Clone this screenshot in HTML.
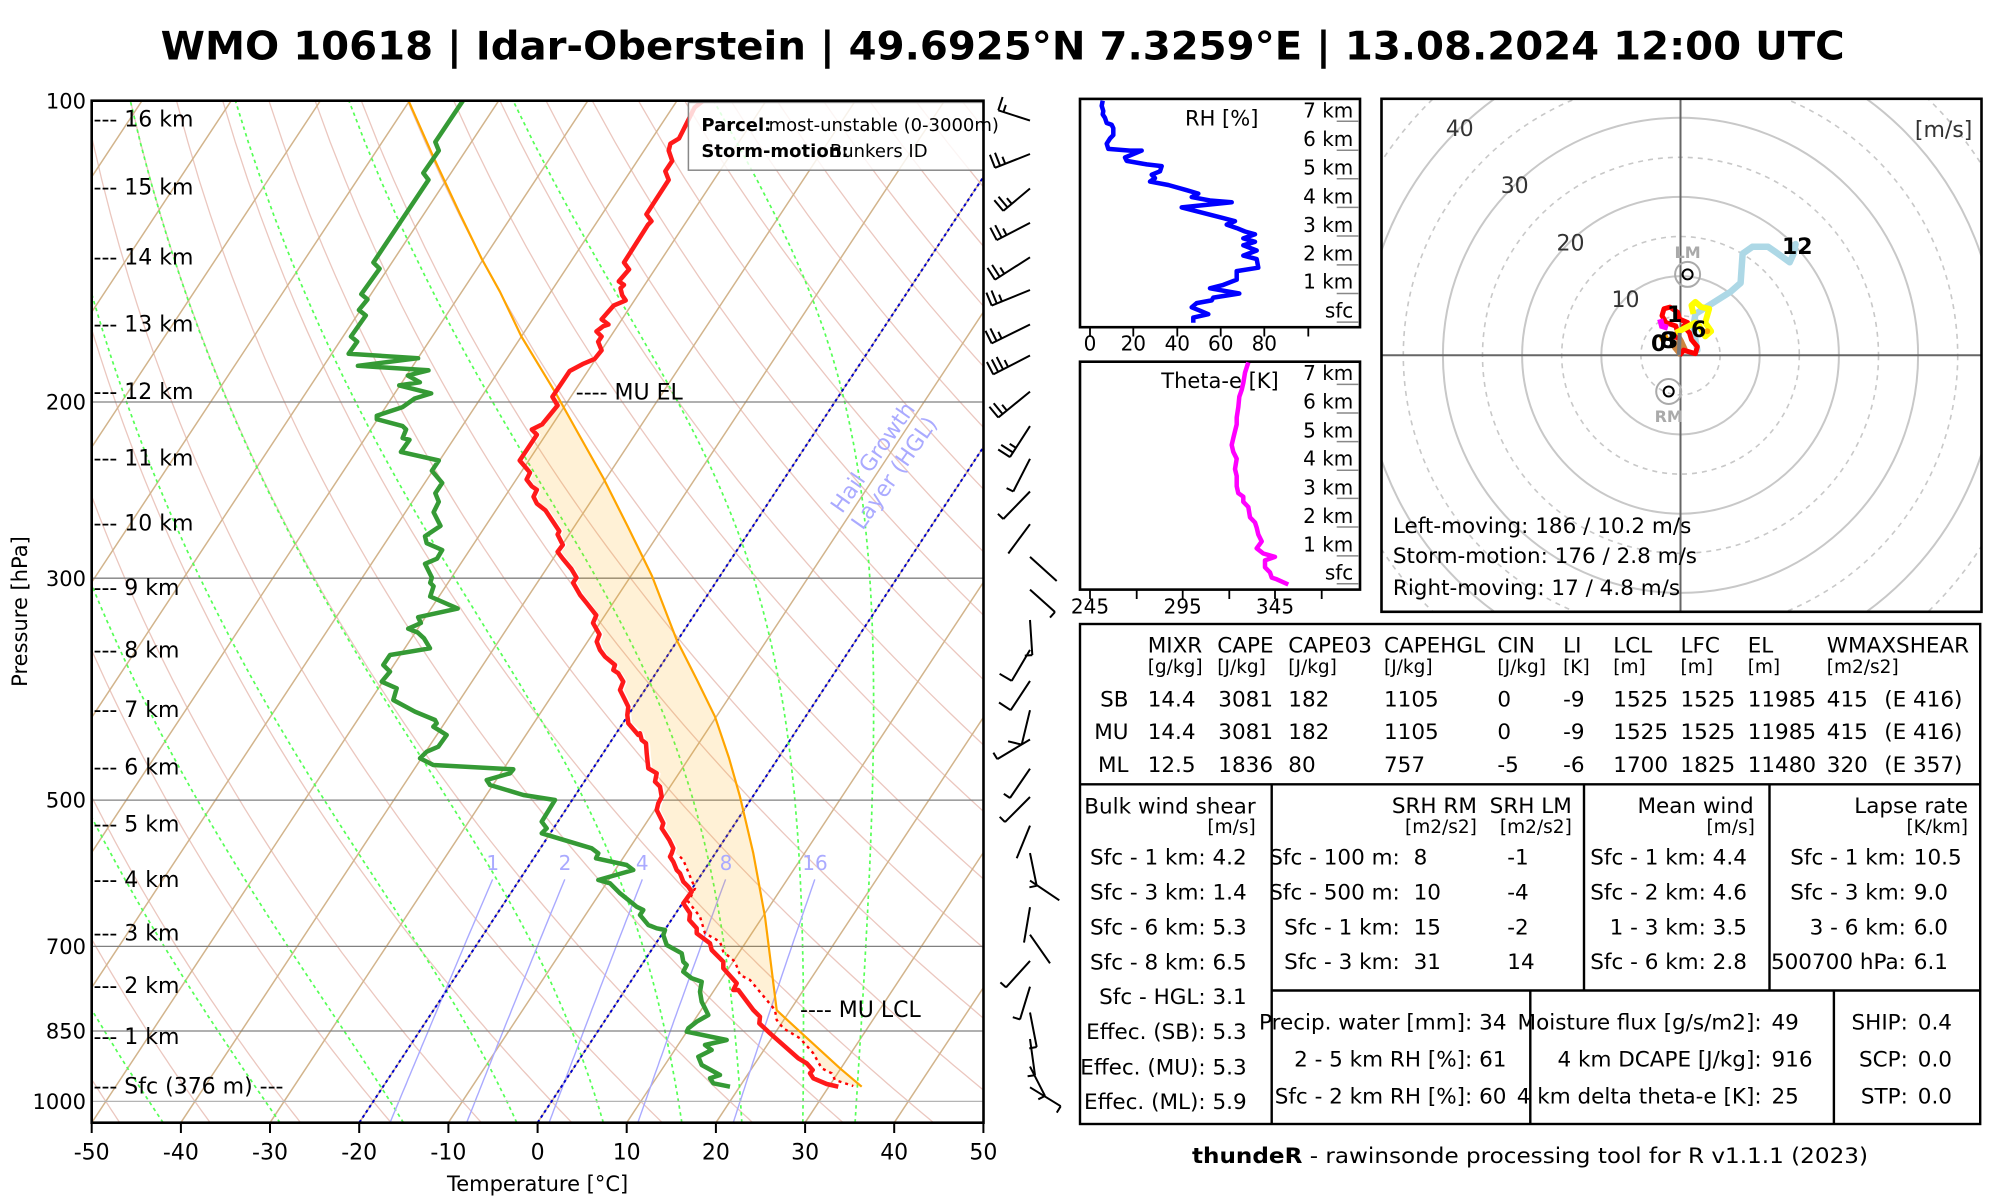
<!DOCTYPE html>
<html><head><meta charset="utf-8">
<style>
html,body{margin:0;padding:0;background:#fff;}
svg{display:block;}
text{font-family:"DejaVu Sans","Liberation Sans",sans-serif;}
</style></head><body>
<svg id="s" xmlns="http://www.w3.org/2000/svg" width="2000" height="1200" viewBox="0 0 2000 1200">
<defs>
<clipPath id="cs"><rect x="91.7" y="100.7" width="891.8" height="1022"/></clipPath>
<clipPath id="ch"><rect x="1381.5" y="98.8" width="600" height="513"/></clipPath>
</defs>
<rect width="2000" height="1200" fill="#fff"/>

<!-- Title -->
<text x="160.7" y="59.3" font-size="39" font-weight="bold" textLength="1684" lengthAdjust="spacingAndGlyphs">WMO 10618 | Idar-Oberstein | 49.6925°N 7.3259°E | 13.08.2024 12:00 UTC</text>

<!-- Skew-T background (generated) -->
<g id="bg" clip-path="url(#cs)"></g>

<g clip-path="url(#cs)">
<!-- pressure lines -->
<g stroke="#808080" stroke-width="1.3">
<line x1="91.7" y1="402" x2="983.5" y2="402"/>
<line x1="91.7" y1="578.2" x2="983.5" y2="578.2"/>
<line x1="91.7" y1="800.1" x2="983.5" y2="800.1"/>
<line x1="91.7" y1="946.4" x2="983.5" y2="946.4"/>
<line x1="91.7" y1="1031" x2="983.5" y2="1031"/>
</g>
<line x1="91.7" y1="1101.4" x2="983.5" y2="1101.4" stroke="#b4b4b4" stroke-width="1.3"/>
<g id="hgl"></g>

<!-- CAPE shading -->
<polygon fill="#ffa500" fill-opacity="0.16" points="555.9,393.4 578,433 603.3,478 628,527 652,576 676.7,640 715,716.7 740,796.7 753.3,853.3 765,916.7 776.7,1010 778.3,1011.7 800,1031.7 840,1068.3 861.7,1086.7 853.3,1086 835,1080 831.7,1073.3 821.7,1068.3 813.3,1053.3 800,1038.3 783.3,1028.3 776.7,1020 775,1010 766.7,1000 750,980 740,975 735,961.7 723.3,951.7 720,941.7 705,933.3 700,916.7 688.3,901.7 695,888.3 683.3,860 675.7,853.3 677.3,848.3 673.3,840 665.7,828.3 667.3,823.3 660.7,810 662.3,803.3 665.7,796.7 664,786.7 659,781.7 660.7,773.3 652.3,768.3 650.7,753.3 650,743.3 645.7,740 644,733.3 632.3,723.3 631.3,715 632.3,706.7 629,700 624,690 627.3,681.7 622.3,673.3 617.3,670 619,665 609,656.7 604,650 600.7,641.7 603.5,634.4 597,623 599.5,615.5 590.9,603.4 584,594.8 577.1,582.8 580.5,577.6 575.4,569 566.8,558.7 561.6,551.8 566.8,544.9 561.6,534.5 563.3,531.1 556.4,520.8 549.5,510.4 540.9,503.6 537.5,496.7 540.9,489.8 535.8,486.3 530.6,479.5 534,472.6 523.7,460.5 540.9,434.7 535.8,429.5 546.1,424.4 556.4,400"/>

<!-- parcel -->
<polyline fill="none" stroke="#ffa500" stroke-width="2.2" stroke-linejoin="round" points="408.5,100.7 433.6,157.5 460,214 481.8,259 500,291.8 521.4,336.5 555.9,393.4 578,433 603.3,478 628,527 652,576 676.7,640 697,680 715,716.7 729,758 740,796.7 753.3,853.3 765,916.7 776.7,1010 778.3,1011.7 800,1031.7 840,1068.3 861.7,1086.7"/>

<!-- virtual temp dotted -->
<polyline fill="none" stroke="#ff0000" stroke-width="2.4" stroke-dasharray="3 4" points="680,856.7 683.3,860 695,888.3 688.3,901.7 700,916.7 705,933.3 720,941.7 723.3,951.7 735,961.7 740,975 750,980 766.7,1000 775,1010 776.7,1020 783.3,1028.3 800,1038.3 813.3,1053.3 821.7,1068.3 831.7,1073.3 835,1080 853.3,1086"/>

<!-- dewpoint -->
<polyline fill="none" stroke="#359a35" stroke-width="4.5" stroke-linejoin="round" points="462.9,100.7 435.3,142 438.8,150.6 423.3,173 428.5,179.9 407.8,210.9 373.4,262.5 379.6,268.7 361.3,294.2 367.5,299.4 358.9,310 365.8,315.5 351,336.5 357.2,341.7 348.6,353.8 418.1,358.2 357.9,365.8 428.5,370.3 407.8,375.5 419.9,382.3 399.2,385.4 431.2,393.4 414.7,398.5 402.6,407.1 376.8,415.7 376.8,419.2 402.6,426.1 406.1,429.5 402.6,438.1 409.5,439.8 400.9,451.9 438.8,460.5 431.9,470.8 442.2,482.9 435.3,493.2 438.8,501.8 433.6,512.2 440.5,525.9 425,536.3 426.7,543.2 442.2,550 437,558.7 425,563.8 431.9,577.6 430.2,582.8 433.6,586.2 430.2,596.5 457.7,608.6 418.1,617.2 420.9,623 408.2,628.7 417.7,632.5 424,638.3 430,648.3 390,655 383.3,665 390,671.7 381.7,681.7 396.7,688.3 393.3,700 415,711.7 435,720 436.7,723.3 433.3,726.7 446.7,735 438.3,746.7 426.7,751.7 420,758.3 433.3,765 513.3,769.3 510,773.3 486.7,780 490,785 523.3,795 555,800 541.7,821.7 546.7,828.3 541.7,833.3 591.7,848.3 598.3,853.3 596,858.3 626.7,865 633.3,870 598.3,880 610,883.3 620,893.3 636.7,906.7 643.3,910 640,915 648.3,925 656.7,928.3 665,930 663.3,935 666.7,945 681.7,953.3 683.3,961.7 686.7,965 683.3,971.7 691.7,978.3 701.7,981.7 700,991.7 701.7,1001.7 705,1008.3 708.3,1015 696.7,1021.7 688.3,1028.3 686.7,1031.7 726.7,1040 705,1045 711.7,1050 698.3,1056.7 701.7,1065 720,1075 710,1078.3 713.3,1083.3 730,1086.7"/>

<!-- temperature -->
<polyline fill="none" stroke="#ff1a1a" stroke-width="4.5" stroke-linejoin="round" points="703.2,100.7 694.6,107.5 687.7,121.3 679,138.5 670.4,143.7 668.7,150.6 672.2,160.9 665.3,171.3 668.7,179.9 646.4,214.3 651.5,221.2 648.1,224.6 624,262.5 629.1,269.4 618.8,281.4 624,284.9 620.5,288.3 622.2,295.2 625.7,300.4 613.6,305.6 601.6,319.3 608.5,324.5 603.3,326.2 596.4,331.4 601.6,336.5 598.1,341.7 601.6,350.3 594.7,358.9 582.6,364.1 569.7,371 552.4,396.8 557.6,405.4 542.1,424.4 531.8,429.5 536.9,434.7 519.7,460.5 530,472.6 526.6,479.5 531.8,486.3 536.9,489.8 533.5,496.7 536.9,503.6 545.5,510.4 552.4,520.8 559.3,531.1 557.6,534.5 562.8,544.9 557.6,551.8 562.8,558.7 571.4,569 576.5,577.6 573.1,582.8 580,594.8 586.9,603.4 596.3,615.3 593,623 599.5,634.4 596.7,641.7 600,650 605,656.7 615,665 613.3,670 618.3,673.3 623.3,681.7 620,690 625,700 628.3,706.7 627.3,715 628.3,723.3 638.3,735 640,733.3 641.7,740 646,743.3 646.7,753.3 648.3,768.3 656.7,773.3 655,781.7 660,786.7 661.7,796.7 658.3,803.3 656.7,810 663.3,823.3 661.7,828.3 669.3,840 673.3,848.3 671.7,853.3 670,856.7 673.3,861.7 676.7,870 680,873.3 683.3,881.7 688.3,886.7 691.7,891.7 683.3,903.3 690,913.3 689.3,920 696.7,928.3 696.7,933.3 703.3,938.3 710,943.3 711.7,950 723.3,961.7 723.3,968.3 736.7,983.3 733.3,990 738.3,990 753.3,1010 760,1016.7 759.3,1023.3 770,1033.3 798.3,1058.3 806.7,1063.3 812.7,1070 810,1073.3 813.3,1078.3 826.7,1084 838.3,1086.7"/>
</g>

<!-- mixing ratio labels -->
<g font-size="20" fill="#aaaaff" text-anchor="middle">
<text x="492.7" y="870">1</text>
<text x="565" y="870">2</text>
<text x="642.3" y="870">4</text>
<text x="726" y="870">8</text>
<text x="815" y="870">16</text>
</g>
<!-- HGL text -->
<text x="873.6" y="457.9" font-size="22" fill="#aaaaff" text-anchor="middle" dominant-baseline="central" transform="rotate(-55 873.6 457.9)">Hail Growth</text>
<text x="895" y="473.5" font-size="22" fill="#aaaaff" text-anchor="middle" dominant-baseline="central" transform="rotate(-55 895 473.5)">Layer (HGL)</text>

<!-- MU labels -->
<text x="575.8" y="399.6" font-size="22">---- MU EL</text>
<text x="800" y="1017" font-size="22">---- MU LCL</text>

<!-- km labels -->
<g font-size="22">
<text x="93.5" y="126.6">--- 16 km</text>
<text x="93.5" y="194.7">--- 15 km</text>
<text x="93.5" y="264.3">--- 14 km</text>
<text x="93.5" y="331.5">--- 13 km</text>
<text x="93.5" y="399">--- 12 km</text>
<text x="93.5" y="465.7">--- 11 km</text>
<text x="93.5" y="530.5">--- 10 km</text>
<text x="93.5" y="595.2">--- 9 km</text>
<text x="93.5" y="657.3">--- 8 km</text>
<text x="93.5" y="717">--- 7 km</text>
<text x="93.5" y="774.7">--- 6 km</text>
<text x="93.5" y="831.3">--- 5 km</text>
<text x="93.5" y="887">--- 4 km</text>
<text x="93.5" y="940.7">--- 3 km</text>
<text x="93.5" y="993">--- 2 km</text>
<text x="93.5" y="1044">--- 1 km</text>
<text x="93.5" y="1093.7">--- Sfc (376 m) ---</text>
</g>

<!-- legend box -->
<rect x="688.4" y="102.4" width="295.4" height="67.8" fill="#fff" fill-opacity="0.82" stroke="#888" stroke-width="1.5"/>
<text x="701.4" y="131" font-size="18" font-weight="bold">Parcel:</text>
<text x="768.6" y="131" font-size="18">most-unstable (0-3000m)</text>
<text x="701.4" y="157" font-size="18" font-weight="bold">Storm-motion:</text>
<text x="829.9" y="157" font-size="18">Bunkers ID</text>

<!-- frame -->
<rect x="91.7" y="100.7" width="891.8" height="1022" fill="none" stroke="#000" stroke-width="2.6"/>
<g stroke="#000" stroke-width="2">
<line x1="91.7" y1="1122.7" x2="91.7" y2="1133"/><line x1="180.9" y1="1122.7" x2="180.9" y2="1133"/><line x1="270" y1="1122.7" x2="270" y2="1133"/><line x1="359.2" y1="1122.7" x2="359.2" y2="1133"/><line x1="448.4" y1="1122.7" x2="448.4" y2="1133"/><line x1="537.6" y1="1122.7" x2="537.6" y2="1133"/><line x1="626.7" y1="1122.7" x2="626.7" y2="1133"/><line x1="715.9" y1="1122.7" x2="715.9" y2="1133"/><line x1="805.1" y1="1122.7" x2="805.1" y2="1133"/><line x1="894.2" y1="1122.7" x2="894.2" y2="1133"/><line x1="983.4" y1="1122.7" x2="983.4" y2="1133"/>
</g>
<g font-size="22" text-anchor="middle">
<text x="91.7" y="1159.5">-50</text><text x="180.9" y="1159.5">-40</text><text x="270" y="1159.5">-30</text><text x="359.2" y="1159.5">-20</text><text x="448.4" y="1159.5">-10</text><text x="537.6" y="1159.5">0</text><text x="626.7" y="1159.5">10</text><text x="715.9" y="1159.5">20</text><text x="805.1" y="1159.5">30</text><text x="894.2" y="1159.5">40</text><text x="983.4" y="1159.5">50</text>
</g>
<text x="537.6" y="1191" font-size="21" text-anchor="middle">Temperature [°C]</text>
<g font-size="21" text-anchor="end">
<text x="86" y="108.3">100</text><text x="86" y="409.6">200</text><text x="86" y="585.8">300</text><text x="86" y="807.7">500</text><text x="86" y="954">700</text><text x="86" y="1038.6">850</text><text x="86" y="1109">1000</text>
</g>
<text x="27" y="611.5" font-size="21" text-anchor="middle" transform="rotate(-90 27 611.5)">Pressure [hPa]</text>

<!-- wind barbs -->
<g id="barbs" stroke="#000" stroke-width="2" fill="none"></g>

<!-- RH panel -->
<rect x="1080" y="98.9" width="280" height="228.3" fill="none" stroke="#000" stroke-width="2.6"/>
<polyline fill="none" stroke="#0000ff" stroke-width="4.5" stroke-linejoin="round" points="1102.7,100.7 1101.7,105.8 1103.3,111 1102.7,114.4 1105,117.9 1106.7,123 1111.7,124.8 1113.3,128.2 1113.3,135.1 1110,138.5 1106.7,143.7 1108.3,148.9 1130,150.6 1141.7,150.6 1125,157.5 1126.7,160.9 1146.7,164.4 1161.7,166.1 1160,171.3 1151.7,174.7 1155,178.1 1150,181.6 1168.3,185 1186.7,190.2 1198.3,193.6 1191.7,197.1 1210,200.5 1231.7,202.2 1181.7,207.4 1201.7,212.6 1221.7,217.7 1235,221.2 1226.7,224.6 1236.7,228.1 1245,231.5 1255,234.3 1243.3,238.4 1255,241.8 1243.3,245.3 1256.7,250.5 1243.3,255.6 1256.7,259.1 1258.3,267.7 1236.7,271.1 1236.7,279.7 1223.3,284.9 1210,288.3 1239.3,293.5 1213.3,297.6 1211.7,300.4 1196.7,303.1 1191.7,307.3 1200,310.7 1208.3,314.2 1193.3,317.6 1193.3,322.8"/>
<text x="1221.7" y="125.5" font-size="21" text-anchor="middle">RH [%]</text>
<g stroke="#888" stroke-width="1.5">
<line x1="1336.7" y1="121.3" x2="1358.3" y2="121.3"/><line x1="1336.7" y1="150.2" x2="1358.3" y2="150.2"/><line x1="1336.7" y1="178.8" x2="1358.3" y2="178.8"/><line x1="1336.7" y1="207.4" x2="1358.3" y2="207.4"/><line x1="1336.7" y1="236" x2="1358.3" y2="236"/><line x1="1336.7" y1="264.9" x2="1358.3" y2="264.9"/><line x1="1336.7" y1="293.5" x2="1358.3" y2="293.5"/><line x1="1336.7" y1="322.1" x2="1358.3" y2="322.1"/>
<line x1="1336.7" y1="384.4" x2="1358.3" y2="384.4"/><line x1="1336.7" y1="413" x2="1358.3" y2="413"/><line x1="1336.7" y1="441.6" x2="1358.3" y2="441.6"/><line x1="1336.7" y1="470.2" x2="1358.3" y2="470.2"/><line x1="1336.7" y1="498.4" x2="1358.3" y2="498.4"/><line x1="1336.7" y1="527" x2="1358.3" y2="527"/><line x1="1336.7" y1="555.9" x2="1358.3" y2="555.9"/><line x1="1336.7" y1="583.8" x2="1358.3" y2="583.8"/>
</g>
<g font-size="20" text-anchor="end">
<text x="1353.3" y="117.6">7 km</text><text x="1353.3" y="145.8">6 km</text><text x="1353.3" y="174.4">5 km</text><text x="1353.3" y="203.3">4 km</text><text x="1353.3" y="231.9">3 km</text><text x="1353.3" y="260.5">2 km</text><text x="1353.3" y="288.7">1 km</text><text x="1353.3" y="317.3">sfc</text>
<text x="1353.3" y="380">7 km</text><text x="1353.3" y="408.6">6 km</text><text x="1353.3" y="437.5">5 km</text><text x="1353.3" y="465.4">4 km</text><text x="1353.3" y="494.3">3 km</text><text x="1353.3" y="522.9">2 km</text><text x="1353.3" y="551.5">1 km</text><text x="1353.3" y="579.7">sfc</text>
</g>
<g stroke="#000" stroke-width="1.8">
<line x1="1090" y1="327.2" x2="1090" y2="336.5"/><line x1="1133.3" y1="327.2" x2="1133.3" y2="336.5"/><line x1="1177.3" y1="327.2" x2="1177.3" y2="336.5"/><line x1="1220.7" y1="327.2" x2="1220.7" y2="336.5"/><line x1="1264.3" y1="327.2" x2="1264.3" y2="336.5"/><line x1="1308.3" y1="327.2" x2="1308.3" y2="336.5"/>
<line x1="1090" y1="589.6" x2="1090" y2="599"/><line x1="1136.7" y1="589.6" x2="1136.7" y2="599"/><line x1="1182.7" y1="589.6" x2="1182.7" y2="599"/><line x1="1229.3" y1="589.6" x2="1229.3" y2="599"/><line x1="1275" y1="589.6" x2="1275" y2="599"/><line x1="1321.7" y1="589.6" x2="1321.7" y2="599"/>
</g>
<g font-size="20" text-anchor="middle">
<text x="1090" y="350.5">0</text><text x="1133.3" y="350.5">20</text><text x="1177.3" y="350.5">40</text><text x="1220.7" y="350.5">60</text><text x="1264.3" y="350.5">80</text>
<text x="1090" y="613.5">245</text><text x="1182.7" y="613.5">295</text><text x="1275" y="613.5">345</text>
</g>

<!-- Theta-e panel -->
<rect x="1080" y="361.7" width="280" height="227.9" fill="none" stroke="#000" stroke-width="2.6"/>
<text x="1220" y="388" font-size="21" text-anchor="middle">Theta-e [K]</text>
<polyline fill="none" stroke="#ff00ff" stroke-width="4.5" stroke-linejoin="round" points="1248.3,362.4 1245,372.7 1243.3,383 1241.7,389.9 1239.3,396.8 1238.3,407.1 1236.7,417.5 1236.7,424.4 1235,431.2 1233.3,438.1 1231.7,445 1233.3,451.9 1236.7,458.8 1235,469.1 1236.7,476 1236.7,486.3 1238.3,493.2 1243.3,496.7 1243.3,501.8 1248.3,507 1250,517.3 1255,522.5 1256.7,527.7 1258.3,534.5 1261.7,541.4 1256.7,548.3 1263.3,553.5 1275,556.9 1265,560.4 1265,567.3 1270,572.4 1271.7,577.6 1276.7,579.3 1288.3,584.5"/>

<!-- Hodograph -->
<g clip-path="url(#ch)">
<g fill="none" stroke="#c8c8c8" stroke-width="2">
<circle cx="1680.5" cy="355.3" r="79.2"/><circle cx="1680.5" cy="355.3" r="158.4"/><circle cx="1680.5" cy="355.3" r="237.6"/><circle cx="1680.5" cy="355.3" r="316.8"/>
</g>
<g fill="none" stroke="#c8c8c8" stroke-width="1.6" stroke-dasharray="5 5">
<circle cx="1680.5" cy="355.3" r="39.6"/><circle cx="1680.5" cy="355.3" r="118.8"/><circle cx="1680.5" cy="355.3" r="198"/><circle cx="1680.5" cy="355.3" r="277.2"/><circle cx="1680.5" cy="355.3" r="356.4"/>
</g>
<line x1="1381.5" y1="355.3" x2="1981.5" y2="355.3" stroke="#666" stroke-width="2"/>
<line x1="1680.5" y1="98.8" x2="1680.5" y2="611.9" stroke="#666" stroke-width="2"/>
<g font-size="22" text-anchor="middle" fill="#333">
<text x="1625.5" y="307.2">10</text><text x="1570.5" y="250.7">20</text><text x="1514.7" y="192.9">30</text><text x="1459.7" y="136">40</text>
</g>
<text x="1972.4" y="137" font-size="22" text-anchor="end" fill="#333">[m/s]</text>
<polyline fill="none" stroke="#add8e6" stroke-width="6.5" stroke-linejoin="round" stroke-linecap="round" points="1697.4,350.2 1695.4,339.8 1693.5,326 1695.4,314 1730.8,291.6 1740.6,283 1742.6,253.7 1752.4,246.8 1768.1,246.8 1778,253.7 1789.7,262.3 1793.6,253.7 1795.6,244.1"/>
<polygon fill="#cd853f" points="1671.8,348.4 1678.9,357 1687.6,348.4 1683.6,339.8 1679.7,332.9 1675.8,341.5"/>
<polyline fill="none" stroke="#ff0000" stroke-width="5" stroke-linejoin="round" points="1679.7,355.3 1683.6,350.2 1695.4,353.6 1697.4,346.7 1691.5,339.8 1689.5,332.9 1683.6,326 1687.6,322.6 1679.7,319.2 1677.7,312.3 1669.9,307.1 1664,308.8 1662,315.7 1665.9,322.6 1675.8,326 1677.7,332.9 1675.8,339.8"/>
<polyline fill="none" stroke="#ff00ff" stroke-width="6" points="1660.1,319.2 1662,326 1667.9,327.8"/>
<polyline fill="none" stroke="#ffff00" stroke-width="6" stroke-linejoin="round" points="1675.8,332.9 1685.6,327.8 1695.4,322.6 1699.3,326 1705.2,336.4 1711.1,331.2 1705.2,322.6 1709.2,308.8 1701.3,307.1 1695.4,301.9 1691.5,305.4 1693.5,314"/>
<polyline fill="none" stroke="#ffa500" stroke-width="5" points="1660.1,339.8 1664,338.1 1668,336"/>
<circle cx="1707.2" cy="331.2" r="3" fill="#ffa500"/>
<line x1="1678.9" y1="355.3" x2="1679.7" y2="332.9" stroke="#777" stroke-width="4"/>
<g font-size="22" font-weight="bold">
<text x="1667" y="322">1</text><text x="1691" y="337">6</text><text x="1651" y="351">0</text><text x="1660" y="348">8</text><text x="1663" y="348">3</text><text x="1782" y="254">12</text>
</g>
<circle cx="1687.6" cy="274.4" r="12.5" fill="none" stroke="#aaa" stroke-width="2"/>
<circle cx="1687.6" cy="274.4" r="5" fill="none" stroke="#000" stroke-width="2"/>
<text x="1687.6" y="258" font-size="16" font-weight="bold" text-anchor="middle" fill="#aaa">LM</text>
<circle cx="1668.7" cy="391.5" r="12.5" fill="none" stroke="#aaa" stroke-width="2"/>
<circle cx="1668.7" cy="391.5" r="5" fill="none" stroke="#000" stroke-width="2"/>
<text x="1668.7" y="422" font-size="16" font-weight="bold" text-anchor="middle" fill="#aaa">RM</text>
<g font-size="21.5">
<text x="1392.9" y="533">Left-moving: 186 / 10.2 m/s</text>
<text x="1392.9" y="563">Storm-motion: 176 / 2.8 m/s</text>
<text x="1392.9" y="595">Right-moving: 17 / 4.8 m/s</text>
</g>
</g>
<rect x="1381.5" y="98.8" width="600" height="513" fill="none" stroke="#000" stroke-width="2.6"/>

<!-- Table -->
<g stroke="#000" stroke-width="2.4" fill="none">
<rect x="1080" y="624" width="900.2" height="500"/>
<line x1="1080" y1="784.3" x2="1980.2" y2="784.3"/>
<line x1="1271.7" y1="784.3" x2="1271.7" y2="1124"/>
<line x1="1271.7" y1="990.5" x2="1980.2" y2="990.5"/>
<line x1="1584" y1="784.3" x2="1584" y2="990.5"/>
<line x1="1769.5" y1="784.3" x2="1769.5" y2="990.5"/>
<line x1="1530.3" y1="990.5" x2="1530.3" y2="1124"/>
<line x1="1833.9" y1="990.5" x2="1833.9" y2="1124"/>
</g>
<g font-size="21.5">
<text x="1147.7" y="652.5">MIXR</text><text x="1217.3" y="652.5">CAPE</text><text x="1288.3" y="652.5">CAPE03</text><text x="1384" y="652.5">CAPEHGL</text><text x="1497.4" y="652.5">CIN</text><text x="1563.1" y="652.5">LI</text><text x="1613.3" y="652.5">LCL</text><text x="1680.5" y="652.5">LFC</text><text x="1747.7" y="652.5">EL</text><text x="1826.8" y="652.5">WMAXSHEAR</text>
</g>
<g font-size="18.5">
<text x="1147.7" y="673">[g/kg]</text><text x="1217.3" y="673">[J/kg]</text><text x="1288.3" y="673">[J/kg]</text><text x="1384" y="673">[J/kg]</text><text x="1497.4" y="673">[J/kg]</text><text x="1563.1" y="673">[K]</text><text x="1613.3" y="673">[m]</text><text x="1680.5" y="673">[m]</text><text x="1747.7" y="673">[m]</text><text x="1826.8" y="673">[m2/s2]</text>
</g>
<g font-size="21.5">
<text x="1128.5" y="706.5" text-anchor="end">SB</text><text x="1128.5" y="739" text-anchor="end">MU</text><text x="1128.5" y="772" text-anchor="end">ML</text>
<text x="1147.7" y="706.5">14.4</text><text x="1218.3" y="706.5">3081</text><text x="1288.3" y="706.5">182</text><text x="1384" y="706.5">1105</text><text x="1497.4" y="706.5">0</text><text x="1563.1" y="706.5">-9</text><text x="1613.3" y="706.5">1525</text><text x="1680.5" y="706.5">1525</text><text x="1747.7" y="706.5">11985</text><text x="1826.8" y="706.5">415</text><text x="1884.2" y="706.5">(E 416)</text>
<text x="1147.7" y="739">14.4</text><text x="1218.3" y="739">3081</text><text x="1288.3" y="739">182</text><text x="1384" y="739">1105</text><text x="1497.4" y="739">0</text><text x="1563.1" y="739">-9</text><text x="1613.3" y="739">1525</text><text x="1680.5" y="739">1525</text><text x="1747.7" y="739">11985</text><text x="1826.8" y="739">415</text><text x="1884.2" y="739">(E 416)</text>
<text x="1147.7" y="772">12.5</text><text x="1218.3" y="772">1836</text><text x="1288.3" y="772">80</text><text x="1384" y="772">757</text><text x="1497.4" y="772">-5</text><text x="1563.1" y="772">-6</text><text x="1613.3" y="772">1700</text><text x="1680.5" y="772">1825</text><text x="1747.7" y="772">11480</text><text x="1826.8" y="772">320</text><text x="1884.2" y="772">(E 357)</text>
</g>
<!-- bulk wind shear -->
<g font-size="21.5">
<text x="1084.3" y="813.6">Bulk wind shear</text>
<text x="1255.7" y="833" font-size="18.5" text-anchor="end">[m/s]</text>
<g text-anchor="end">
<text x="1246.7" y="864.5">Sfc - 1 km: 4.2</text>
<text x="1246.7" y="899.3">Sfc - 3 km: 1.4</text>
<text x="1246.7" y="934.4">Sfc - 6 km: 5.3</text>
<text x="1246.7" y="969.6">Sfc - 8 km: 6.5</text>
<text x="1246.7" y="1004">Sfc - HGL: 3.1</text>
<text x="1246.7" y="1039.1">Effec. (SB): 5.3</text>
<text x="1246.7" y="1074.6">Effec. (MU): 5.3</text>
<text x="1246.7" y="1109">Effec. (ML): 5.9</text>
</g>
<!-- SRH -->
<text x="1476.9" y="813.1" text-anchor="end">SRH RM</text>
<text x="1571.8" y="813.1" text-anchor="end">SRH LM</text>
<text x="1476.9" y="833" font-size="18.5" text-anchor="end">[m2/s2]</text>
<text x="1571.8" y="833" font-size="18.5" text-anchor="end">[m2/s2]</text>
<g text-anchor="end">
<text x="1399.8" y="864.3">Sfc - 100 m:</text><text x="1399.8" y="899.5">Sfc - 500 m:</text><text x="1399.8" y="934.6">Sfc - 1 km:</text><text x="1399.8" y="969.1">Sfc - 3 km:</text>
</g>
<text x="1413.6" y="864.3">8</text><text x="1413.6" y="899.5">10</text><text x="1413.6" y="934.6">15</text><text x="1413.6" y="969.1">31</text>
<text x="1507.3" y="864.3">-1</text><text x="1507.3" y="899.5">-4</text><text x="1507.3" y="934.6">-2</text><text x="1507.3" y="969.1">14</text>
<!-- mean wind -->
<text x="1753.7" y="813.1" text-anchor="end">Mean wind</text>
<text x="1754.8" y="833" font-size="18.5" text-anchor="end">[m/s]</text>
<g text-anchor="end">
<text x="1746.9" y="864.3">Sfc - 1 km: 4.4</text><text x="1746.9" y="899.5">Sfc - 2 km: 4.6</text><text x="1746.9" y="934.6">1 - 3 km: 3.5</text><text x="1746.9" y="969.1">Sfc - 6 km: 2.8</text>
</g>
<!-- lapse -->
<text x="1968" y="813.1" text-anchor="end">Lapse rate</text>
<text x="1968" y="833" font-size="18.5" text-anchor="end">[K/km]</text>
<g text-anchor="end">
<text x="1905.9" y="864.3">Sfc - 1 km:</text><text x="1905.9" y="899.5">Sfc - 3 km:</text><text x="1905.9" y="934.6">3 - 6 km:</text><text x="1905.9" y="969.1">500700 hPa:</text>
</g>
<text x="1913.8" y="864.3">10.5</text><text x="1913.8" y="899.5">9.0</text><text x="1913.8" y="934.6">6.0</text><text x="1913.8" y="969.1">6.1</text>
<!-- bottom -->
<g text-anchor="end">
<text x="1506.5" y="1029.5">Precip. water [mm]: 34</text>
<text x="1506.5" y="1066.5">2 - 5 km RH [%]: 61</text>
<text x="1506.5" y="1103.5">Sfc - 2 km RH [%]: 60</text>
<text x="1761.6" y="1029.5">Moisture flux [g/s/m2]:</text>
<text x="1761.6" y="1066.5">4 km DCAPE [J/kg]:</text>
<text x="1761.6" y="1103.5">4 km delta theta-e [K]:</text>
<text x="1907.9" y="1029.5">SHIP:</text>
<text x="1907.9" y="1066.5">SCP:</text>
<text x="1907.9" y="1103.5">STP:</text>
</g>
<text x="1771.5" y="1029.5">49</text><text x="1771.5" y="1066.5">916</text><text x="1771.5" y="1103.5">25</text>
<text x="1917.8" y="1029.5">0.4</text><text x="1917.8" y="1066.5">0.0</text><text x="1917.8" y="1103.5">0.0</text>
</g>

<!-- footer -->
<text x="1192" y="1163" font-size="21.5" textLength="676" lengthAdjust="spacingAndGlyphs"><tspan font-weight="bold">thundeR</tspan> - rawinsonde processing tool for R v1.1.1 (2023)</text>
</svg>

<script>
(function(){
var NS="http://www.w3.org/2000/svg";
function Y(p){return 100.7+434.6*Math.log(p/100);}
function X(T,p){return 91.7+(T+50)*8.917+0.66*(1122.7-Y(p));}
function path(pts,attrs,parent){
  var d="";
  for(var i=0;i<pts.length;i++){d+=(i?"L":"M")+pts[i][0].toFixed(1)+" "+pts[i][1].toFixed(1);}
  var e=document.createElementNS(NS,"path");
  e.setAttribute("d",d);e.setAttribute("fill","none");
  for(var k in attrs)e.setAttribute(k,attrs[k]);
  parent.appendChild(e);return e;
}
var bg=document.getElementById("bg");
var p,T,pts,i;
// dry adiabats
for(var th=-60;th<=210;th+=10){
  pts=[];
  for(p=1050;p>=100;p-=10){T=(th+273.15)*Math.pow(p/1000,0.2857)-273.15;pts.push([X(T,p),Y(p)]);}
  path(pts,{stroke:"#ebc7bf","stroke-width":1.3},bg);
}
// isotherms
for(T=-160;T<=50;T+=10){path([[X(T,1050),Y(1050)],[X(T,100),Y(100)]],{stroke:"#d2b48c","stroke-width":1.5},bg);}
// moist adiabats
function es(Tk){return 6.112*Math.exp(17.67*(Tk-273.15)/(Tk-29.65));}
function dTdp(Tk,pp){var Rd=287.04,cp=1005.7,L=2.501e6,eps=0.622;var e=es(Tk);var rs=eps*e/(pp-e);return (Rd*Tk+L*rs)/(pp*(cp+L*L*rs*eps/(Rd*Tk*Tk)));}
var starts=[-42.0,-28.9,-15.05,-2.34,7.37,16.17,22.9,29.74,35.6];
starts.forEach(function(t0){
  var Tk=t0+273.15;pts=[];
  for(p=1050;p>100;p-=2){
    if(p%10===0)pts.push([X(Tk-273.15,p),Y(p)]);
    var k1=dTdp(Tk,p);var k2=dTdp(Tk-k1,p-1);Tk=Tk-2*k2;
  }
  pts.push([X(Tk-273.15,100),Y(100)]);
  path(pts,{stroke:"#55ff55","stroke-width":1.7,"stroke-dasharray":"3.5 3.5"},bg);
});
// mixing ratio
[1,2,4,8,16].forEach(function(w){
  pts=[];
  for(p=1050;p>=600;p-=10){var e=w*p/(622+w);var l=Math.log(e/6.112);var Td=243.5*l/(17.67-l);pts.push([X(Td,p),Y(p)]);}
  path(pts,{stroke:"#aaaaff","stroke-width":1.4},bg);
});
// HGL lines
var hgl=document.getElementById("hgl");
[0,-20].forEach(function(t){path([[X(t,1050),Y(1050)],[X(t,100),Y(100)]],{stroke:"#0000cc","stroke-width":2,"stroke-dasharray":"3 3"},hgl);});
// barbs
var barbs=[
[1030,120.6,998.3,110.3,1,1],[1030,154,995,167.8,2,1],[1030,188.5,1003.3,210.9,2,1],[1030,222.9,996.7,240.1,2,1],
[1030,257.3,995,279.7,2,1],[1030,290,991.7,305.6,2,1],[1030,324.5,991.7,343.4,2,1],[1030,355.5,993.3,374.4,3,1],
[1030,391.6,998.3,417.5,2,1],[1030,426.1,1010,457.1,2,1],[1030,458.8,1013.3,491.5,0,1],[1030,491.5,1003.3,519,0,1],
[1030,524.2,1008.3,553.5,0,0],[1030,556.9,1056.7,581,0,0],[1030,589.6,1055,612,0,1],[1030,620,1032.3,655.1,0,1],
[1030,649.9,1011.7,680.9,1,0],[1030,680.9,1010.7,710.2,1,0],[1030,710.2,1021.7,744.6,1,0],[1030,739.5,997.3,759.1,0,1],
[1030,768.7,1010,798,0,1],[1030,797,1005,822.1,0,1],[1030,825.6,1016.7,858.3,0,0],[1030,853.1,1036.7,885.8,0,1],
[1030,880.6,1059.3,900.3,0,0],[1030,907.2,1024,942.6,0,0],[1030,934.7,1050,963.3,0,0],[1030,960.9,1006,987.4,0,1],
[1030,986.7,1020,1019.4,0,1],[1030,1012.5,1036.7,1047,0,1],[1030,1039,1035,1075.2,0,1],[1030,1066.6,1045,1095.9,0,1],
[1030,1087.3,1060.7,1106.2,0,1]];
var bg2=document.getElementById("barbs");
barbs.forEach(function(b){
  var x0=b[0],y0=b[1],x1=b[2],y1=b[3],f=b[4],h=b[5];
  var dx=x1-x0,dy=y1-y0,L=Math.sqrt(dx*dx+dy*dy),ux=dx/L,uy=dy/L,px=-uy,py=ux;
  var d="M"+x0+" "+y0+"L"+x1+" "+y1;var pos=0;
  for(var i=0;i<f;i++){var bx=x1-ux*pos,by=y1-uy*pos;d+="M"+bx.toFixed(1)+" "+by.toFixed(1)+"l"+(px*14).toFixed(1)+" "+(py*14).toFixed(1);pos+=5.5;}
  for(i=0;i<h;i++){var bx2=x1-ux*pos,by2=y1-uy*pos;d+="M"+bx2.toFixed(1)+" "+by2.toFixed(1)+"l"+(px*7.5).toFixed(1)+" "+(py*7.5).toFixed(1);pos+=5.5;}
  var e=document.createElementNS(NS,"path");e.setAttribute("d",d);bg2.appendChild(e);
});
})();
</script>
</body></html>
